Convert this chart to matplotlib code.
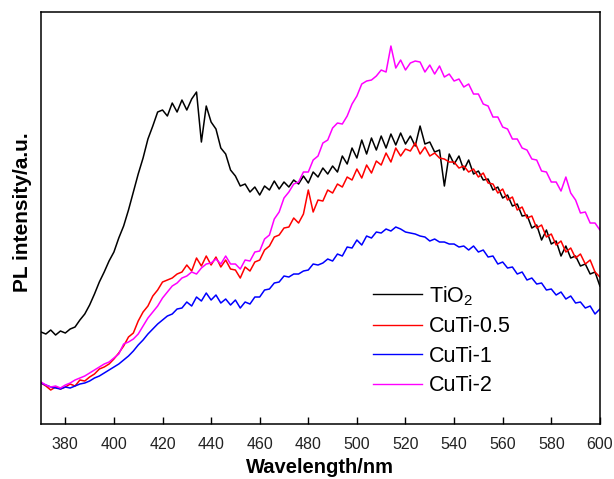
import numpy as np
import matplotlib
matplotlib.use("Agg")
import matplotlib.pyplot as plt

plt.rcParams['font.family'] = ['Liberation Sans', 'DejaVu Sans']
plt.rcParams['mathtext.default'] = 'regular'

# wavelength grid, 2 nm steps
wavelength = np.arange(370, 601, 2)

# PL intensity (arbitrary units)
tio2 = [92, 90, 94, 89, 93, 91, 95, 97, 104, 110,
        119, 130, 142, 152, 163, 172, 186, 198, 214, 232,
        250, 266, 285, 298, 312, 314, 308, 321, 312, 324,
        314, 325, 332, 282, 318, 302, 295, 276, 270, 254,
        248, 238, 240, 232, 237, 229, 238, 234, 243, 235,
        242, 237, 244, 240, 248, 241, 252, 247, 256, 250,
        258, 252, 268, 260, 276, 266, 284, 270, 286, 274,
        288, 276, 290, 279, 291, 280, 288, 278, 298, 280,
        282, 272, 274, 238, 270, 260, 268, 254, 264, 250,
        253, 244, 245, 234, 237, 226, 229, 218, 220, 208,
        209, 196, 199, 184, 194, 180, 183, 168, 178, 166,
        168, 158, 160, 150, 152, 138]

cuti_05 = [41, 38, 34, 37, 35, 37, 40, 38, 44, 43,
           47, 50, 55, 57, 60, 65, 71, 78, 87, 91,
           103, 112, 118, 128, 134, 142, 144, 146, 150, 152,
           159, 153, 166, 158, 168, 159, 167, 157, 164, 155,
           154, 146, 157, 153, 162, 164, 174, 178, 187, 189,
           196, 197, 206, 201, 210, 234, 212, 224, 223, 234,
           231, 240, 237, 247, 244, 255, 246, 259, 251, 263,
           259, 271, 262, 276, 268, 275, 273, 281, 270, 277,
           268, 271, 266, 265, 262, 262, 256, 258, 252, 255,
           247, 251, 241, 240, 231, 235, 224, 227, 214, 217,
           206, 208, 196, 199, 187, 190, 179, 183, 172, 176,
           166, 170, 160, 164, 152, 147]

cuti_1 = [41, 39, 37, 36, 35, 37, 36, 38, 40, 41,
          43, 46, 48, 51, 54, 57, 60, 64, 68, 73,
          79, 84, 90, 95, 100, 104, 108, 110, 115, 116,
          122, 118, 127, 123, 131, 124, 129, 121, 125, 119,
          124, 116, 122, 120, 127, 127, 134, 135, 141, 142,
          148, 147, 150, 150, 153, 154, 160, 159, 161, 165,
          163, 170, 168, 177, 176, 184, 179, 188, 186, 192,
          191, 195, 193, 197, 195, 192, 191, 190, 188, 187,
          183, 185, 182, 182, 180, 180, 177, 178, 174, 178,
          172, 174, 167, 168, 160, 162, 156, 157, 150, 152,
          144, 146, 140, 141, 134, 135, 129, 132, 125, 128,
          121, 122, 116, 118, 110, 115]

cuti_2 = [42, 39, 37, 38, 36, 39, 41, 44, 46, 48,
          51, 54, 57, 60, 62, 66, 70, 80, 82, 85,
          90, 98, 106, 112, 118, 126, 132, 138, 141, 146,
          148, 152, 150, 156, 160, 161, 165, 160, 168, 160,
          160, 155, 164, 163, 172, 173, 185, 189, 205, 212,
          226, 232, 240, 242, 252, 252, 264, 268, 281, 284,
          296, 301, 300, 308, 320, 328, 340, 343, 344, 348,
          354, 352, 378, 356, 364, 354, 361, 363, 362, 352,
          359, 350, 358, 347, 350, 343, 345, 337, 340, 330,
          330, 320, 318, 307, 307, 297, 295, 285, 285, 276,
          274, 265, 264, 253, 252, 242, 242, 233, 247, 231,
          224, 211, 212, 201, 201, 194]

labels = ['TiO$_2$', 'CuTi-0.5', 'CuTi-1', 'CuTi-2']
colors = ['black', 'red', 'blue', 'magenta']
series = [tio2, cuti_05, cuti_1, cuti_2]

fig = plt.figure(figsize=(6.14, 4.79), dpi=100)
ax = fig.add_axes([0.0668, 0.1148, 0.9102, 0.8601])

for y, c, lab in zip(series, colors, labels):
    ax.plot(wavelength, y, color=c, lw=1.1, label=lab)

ax.set_xlim(370, 600)
ax.set_ylim(0, 412)
ax.set_xticks(np.arange(380, 601, 20))
ax.set_yticks([])
ax.tick_params(axis='x', direction='in', length=5, width=1, labelsize=11.5,
               pad=9, labelcolor='#222222')
for s in ax.spines.values():
    s.set_linewidth(1.1)

ax.set_xlabel('Wavelength/nm', fontsize=14.5, fontweight='bold', labelpad=5)
ax.set_ylabel('PL intensity/a.u.', fontsize=15, fontweight='bold')
ax.yaxis.set_label_coords(-0.016, 0.515)

leg = ax.legend(loc='upper left', bbox_to_anchor=(0.594, 0.34), frameon=False,
                fontsize=15.5, handlelength=2.3, handletextpad=0.28,
                labelspacing=0.4, borderpad=0, borderaxespad=0)
for h in leg.get_lines():
    h.set_linewidth(1.0)

fig.savefig('out.png', dpi=100)
